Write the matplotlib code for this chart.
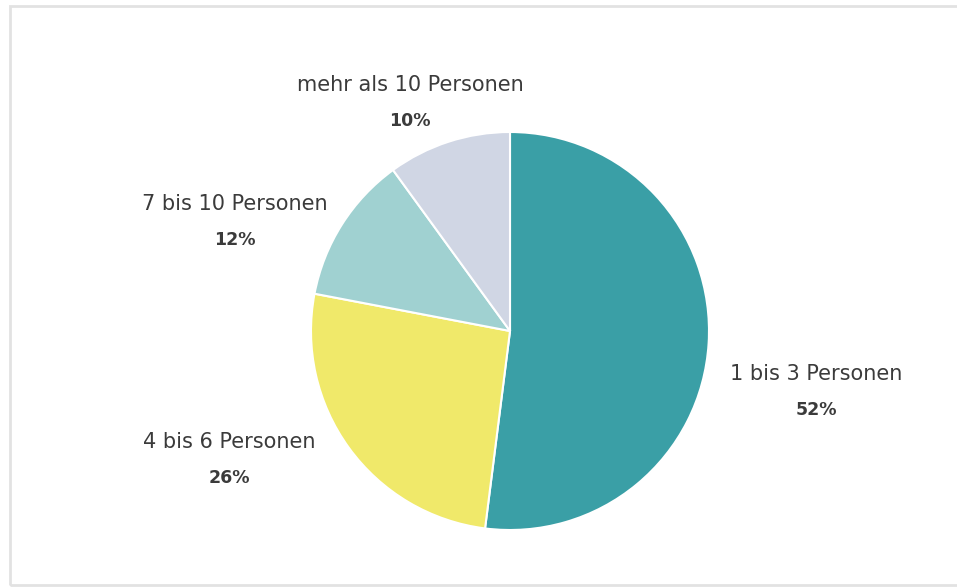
import matplotlib.pyplot as plt
from matplotlib.patches import Rectangle

# group sizes, clockwise from 12 o'clock
labels = ['1 bis 3 Personen', '4 bis 6 Personen', '7 bis 10 Personen', 'mehr als 10 Personen']
shares = [52, 26, 12, 10]
colors = ['#3a9fa6', '#f0e96a', '#a0d1d1', '#d0d6e4']

# label anchor points (pixels from top-left)
label_xy = [(816, 392), (229, 460), (235, 222), (410, 103)]

W, H = 957, 587
fig = plt.figure(figsize=(W / 100, H / 100), dpi=100)
ax = fig.add_axes([0, 0, 1, 1])

ax.pie(shares, colors=colors, startangle=90, counterclock=False,
       center=(510, H - 331), radius=199,
       wedgeprops=dict(edgecolor='white', linewidth=1.5))

ax.set_xlim(0, W)
ax.set_ylim(0, H)
ax.set_aspect('equal')
ax.axis('off')

# card border
ax.add_patch(Rectangle((10, 2), W + 20, H - 8, fill=False,
                       edgecolor='#e2e2e2', linewidth=2))

font = 'DejaVu Sans'
for lbl, val, (x, y) in zip(labels, shares, label_xy):
    ax.text(x, H - y + 18, lbl, ha='center', va='center', fontsize=15,
            family=font, color='#3b3b3b')
    ax.text(x, H - y - 18, f'{val}%', ha='center', va='center', fontsize=12.5,
            family=font, fontweight='bold', color='#3b3b3b')

fig.savefig('out.png', dpi=100)
